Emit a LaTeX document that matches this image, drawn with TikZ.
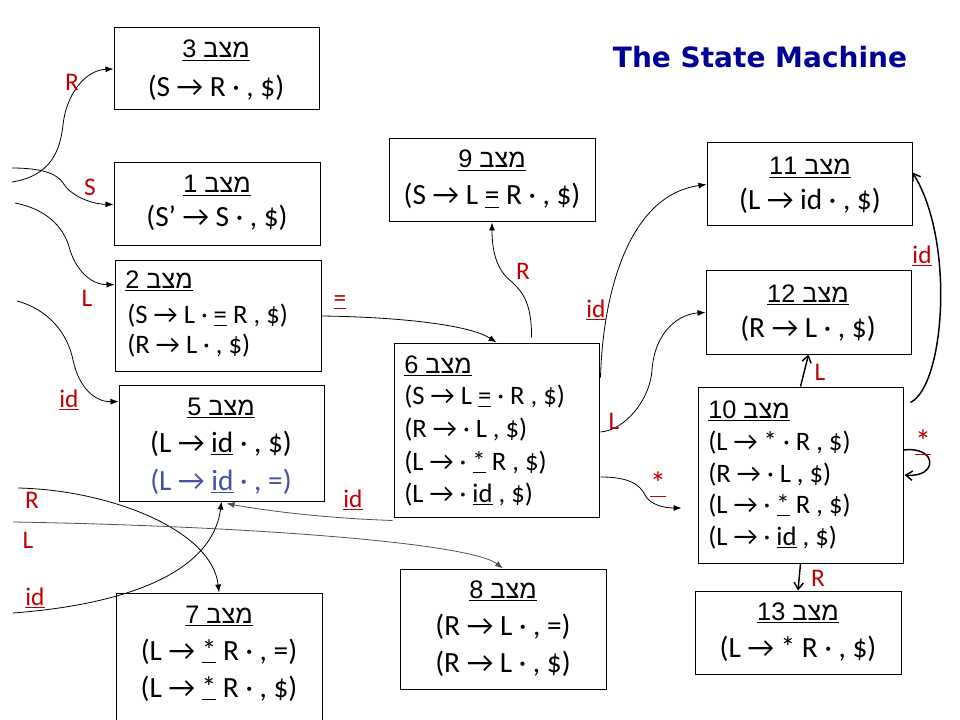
\documentclass[tikz,border=0pt]{standalone}
\usepackage{fontspec}
\setmainfont{Carlito}
\newfontfamily\hebfont[Script=Hebrew]{Liberation Sans}
\newfontfamily\titlefont{DejaVu Sans}
\TeXXeTstate=1
\usetikzlibrary{arrows.meta,fit,calc}
\definecolor{lblred}{RGB}{192,0,0}
\definecolor{itemblue}{RGB}{68,80,160}
\definecolor{titleblue}{RGB}{0,0,150}
\definecolor{edgegray}{RGB}{80,80,80}
\newcommand\ul[1]{$\underline{\hbox{#1}}$}
\newcommand\hd[1]{\ul{\hebfont\beginR מצב \beginL#1\endL\endR}}
\begin{document}
\begin{tikzpicture}[x=0.75pt,y=-0.75pt,
  box/.style={draw,line width=0.75pt,inner sep=0pt},
  hdr/.style={anchor=base,inner sep=0pt,font=\fontsize{19}{19}\selectfont},
  hdrl/.style={anchor=base west,inner sep=0pt,font=\fontsize{19}{19}\selectfont},
  itm/.style={anchor=base,inner sep=0pt,font=\fontsize{22}{22}\selectfont},
  itml/.style={anchor=base west,inner sep=0pt,font=\fontsize{20}{20}\selectfont},
  lbl/.style={text=lblred,inner sep=0pt,font=\fontsize{19}{19}\selectfont},
  starlbl/.style={text=lblred,inner sep=0pt,font=\fontsize{24}{24}\selectfont},
  arr/.style={-{Latex[length=6pt,width=4.5pt]},line width=0.6pt},
  oarr/.style={-{Straight Barb[length=5pt,width=7pt]},line width=1.1pt},
]
\useasboundingbox (0,0) rectangle (960,720);
\node[anchor=base,inner sep=0pt,text=titleblue,font=\titlefont\bfseries\fontsize{21}{21}\selectfont] (title) at (760,68) {The State Machine};
% state 3
\node[box,fit={(114,28)(319,110)}] (s3) {};
\node[hdr] (s3h) at (216,58) {\hd{3}};
\node[itm] (s3a) at (216,97) {(S → R · , \$)};
% state 1
\node[box,fit={(114,163)(320,246)}] (s1) {};
\node[hdr] (s1h) at (217,193) {\hd{1}};
\node[itm] (s1a) at (217,227) {(S’ → S · , \$)};
% state 2
\node[box,fit={(115,261)(321,371)}] (s2) {};
\node[hdrl] (s2h) at (125,288) {\hd{2}};
\node[itml] (s2a) at (127,323) {(S → L · \ul{=} R , \$)};
\node[itml] (s2b) at (127,353) {(R → L · , \$)};
% state 5
\node[box,fit={(119,385)(324,501)}] (s5) {};
\node[hdr] (s5h) at (221,415) {\hd{5}};
\node[itm] (s5a) at (221,452) {(L → \ul{id} · , \$)};
\node[itm,text=itemblue] (s5b) at (221,490) {(L → \ul{id} · , =)};
% state 7
\node[box,fit={(116,593)(322,725)}] (s7) {};
\node[hdr] (s7h) at (219,623) {\hd{7}};
\node[itm] (s7a) at (219,660) {(L → \ul{*} R · , =)};
\node[itm] (s7b) at (219,697) {(L → \ul{*} R · , \$)};
% state 9
\node[box,fit={(389,139)(595,222)}] (s9) {};
\node[hdr] (s9h) at (492,168) {\hd{9}};
\node[itm] (s9a) at (492,205) {(S → L \ul{=} R · , \$)};
% state 6
\node[box,fit={(394,343)(599,517)}] (s6) {};
\node[hdrl] (s6h) at (404,373) {\hd{6}};
\node[itml] (s6a) at (404,404) {(S → L \ul{=} · R , \$)};
\node[itml] (s6b) at (404,437) {(R → · L , \$)};
\node[itml] (s6c) at (404,470) {(L → · \ul{*} R , \$)};
\node[itml] (s6d) at (404,502) {(L → · \ul{id} , \$)};
% state 8
\node[box,fit={(400,569)(606,689)}] (s8) {};
\node[hdr] (s8h) at (503,598) {\hd{8}};
\node[itm] (s8a) at (503,635) {(R → L · , =)};
\node[itm] (s8b) at (503,672) {(R → L · , \$)};
% state 11
\node[box,fit={(707,143)(912,226)}] (s11) {};
\node[hdr] (s11h) at (810,175) {\hd{11}};
\node[itm] (s11a) at (810,210) {(L → id · , \$)};
% state 12
\node[box,fit={(706,271)(911,354)}] (s12) {};
\node[hdr] (s12h) at (808,302) {\hd{12}};
\node[itm] (s12a) at (808,337) {(R → L · , \$)};
% state 10
\node[box,fit={(698,387)(903,563)}] (s10) {};
\node[hdrl] (s10h) at (708,418) {\hd{10}};
\node[itml] (s10a) at (708,450) {(L → * · R , \$)};
\node[itml] (s10b) at (708,482) {(R → · L , \$)};
\node[itml] (s10c) at (708,513) {(L → · \ul{*} R , \$)};
\node[itml] (s10d) at (708,545) {(L → · \ul{id} , \$)};
% state 13
\node[box,fit={(695,591)(901,674)}] (s13) {};
\node[hdr] (s13h) at (798,620) {\hd{13}};
\node[itm] (s13a) at (798,657) {(L → * R · , \$)};
% free ends
\coordinate (fR) at (12,182);
\coordinate (fS) at (12,168);
\coordinate (fL) at (15,203);
\coordinate (fid) at (17,301);
\coordinate (fR7) at (18,488);
\coordinate (fL8) at (13,522);
\coordinate (fid5) at (13,613);
% connectors
\draw[arr] (fR) .. controls (50,176) and (60,152) .. (63,125) .. controls (66,95) and (85,70) .. (s3.west);
\draw[arr] (fS) .. controls (45,168) and (58,175) .. (63,183) .. controls (70,195) and (90,204) .. (s1.west);
\draw[arr] (fL) .. controls (50,210) and (65,230) .. (70,250) .. controls (78,275) and (95,285) .. ($(s2.north west)+(0,24)$);
\draw[arr] (fid) .. controls (50,310) and (68,335) .. (73,360) .. controls (79,388) and (95,402) .. ($(s5.north west)+(0,17)$);
\draw[arr] (fR7) .. controls (110,490) and (212,530) .. (s7.north);
\draw[arr,edgegray] (fL8) .. controls (250,526) and (470,543) .. (s8.north);
\draw[arr] (fid5) .. controls (120,605) and (212,575) .. (s5.south);
\draw[arr,edgegray] ($(s6.south west)+(-1,3)$) .. controls (320,518) and (262,510) .. ($(s5.south)+(5,2)$);
\draw[arr] (s2.east) .. controls (400,317) and (470,325) .. (s6.north);
\draw[arr] ($(s6.north)+(35,-5)$) .. controls (532,300) and (520,290) .. (512,282) .. controls (496,270) and (492,250) .. (s9.south);
\draw[arr] ($(s6.north east)+(1,35)$) .. controls (603,290) and (630,195) .. (s11.west);
\draw[arr] ($(s6.east)+(1,2)$) .. controls (625,430) and (650,400) .. (652,370) .. controls (655,330) and (680,314) .. (s12.west);
\draw[arr] ($(s6.east)+(1,47)$) .. controls (630,477) and (640,485) .. (645,495) .. controls (650,505) and (665,508) .. ($(s10.west)+(-16,33)$);
\draw[oarr] (s10.north) -- (s12.south);
\draw[oarr] ($(s10.north east)+(7,16)$) .. controls (945,385) and (955,240) .. ($(s11.east)+(0,-12)$);
\draw[oarr] ($(s10.east)+(0,-25)$) .. controls (938,446) and (938,478) .. ($(s10.east)+(1,0)$);
\draw[oarr] (s10.south) -- (s13.north);
% labels
\node[lbl] (lR3) at (72,82) {R};
\node[lbl] (lS1) at (90,187) {S};
\node[lbl] (lL2) at (87,298) {L};
\node[lbl] (lid5) at (69,400) {\ul{id}};
\node[lbl] (lR7) at (32,500) {R};
\node[lbl] (lL8) at (28,540) {L};
\node[lbl] (lid5b) at (35,598) {\ul{id}};
\node[lbl] (lid6) at (353,500) {\ul{id}};
\node[lbl] (leq) at (340,302) {\ul{=}};
\node[lbl] (lR9) at (523,271) {R};
\node[lbl] (lid11) at (596,310) {\ul{id}};
\node[lbl] (lL12) at (614,421) {L};
\node[starlbl] (lst10) at (658,484) {\ul{*}};
\node[lbl] (lL1012) at (820,372) {L};
\node[lbl] (lid1011) at (922,256) {\ul{id}};
\node[starlbl] (lst1010) at (923,442) {\ul{*}};
\node[lbl] (lR13) at (818,578) {R};
\end{tikzpicture}
\end{document}
